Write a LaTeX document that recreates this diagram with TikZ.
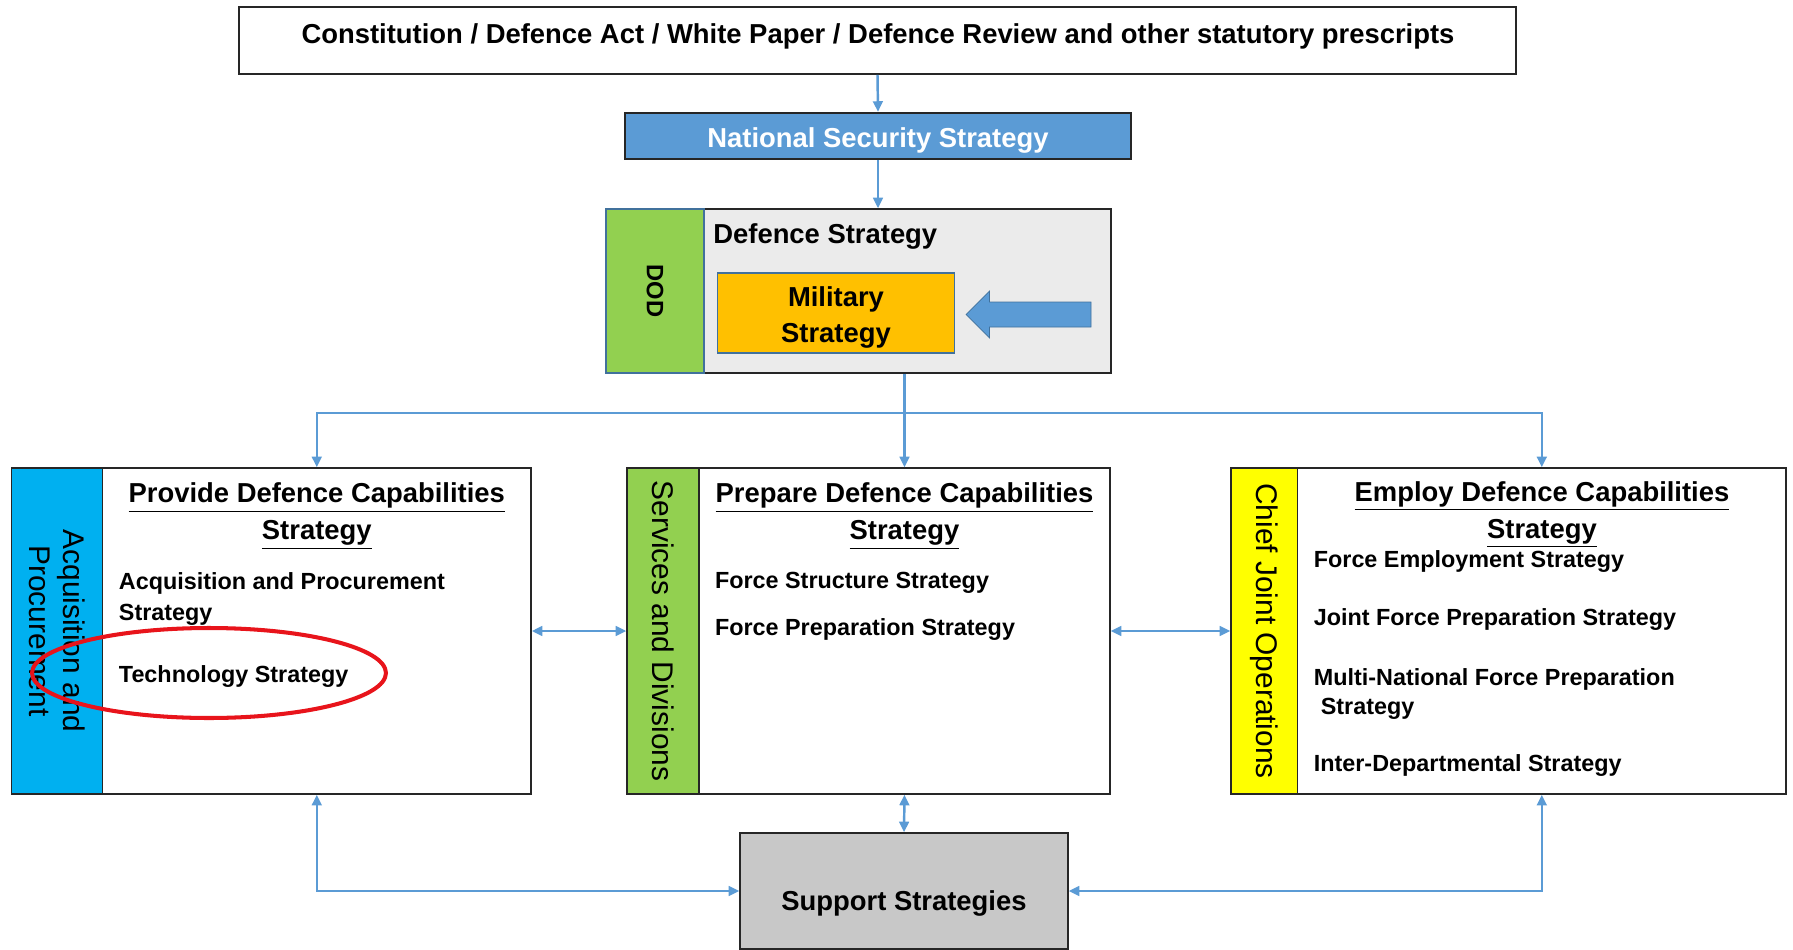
\documentclass[tikz,border=0pt]{standalone}
\usepackage{fontspec}
\setmainfont{Liberation Sans}
\usetikzlibrary{arrows.meta, positioning, calc}

\definecolor{linkblue}{HTML}{5B9BD5}
\definecolor{nssblue}{HTML}{5B9BD5}
\definecolor{dodgreen}{HTML}{92D050}
\definecolor{acqblue}{HTML}{00B0F0}
\definecolor{cjoyellow}{HTML}{FFFF00}
\definecolor{milorange}{HTML}{FFC000}
\definecolor{dsgrey}{HTML}{EBEBEB}
\definecolor{supgrey}{HTML}{C8C8C8}
\definecolor{steel}{HTML}{41719C}
\definecolor{ringred}{HTML}{E8141B}

\newcommand\headfont{\fontsize{15.6}{21}\selectfont\bfseries}
\newcommand\itemfont{\fontsize{13.3}{18.1}\selectfont\bfseries}
\newcommand\sidefont{\fontsize{17}{19.3}\selectfont}
\newcommand\dodfont{\fontsize{13.5}{16}\selectfont\bfseries}

\begin{document}
\begin{tikzpicture}[
  x=0.02cm, y=-0.02cm,
  box/.style={draw=black!85, line width=0.9pt, inner sep=0pt},
  strip/.style={box, rotate=-90, align=center, font=\sidefont},
  head/.style={font=\headfont, align=center, inner sep=0pt},
  item/.style={font=\itemfont, anchor=west, align=left, inner sep=0pt},
  link/.style={draw=linkblue, line width=1.4pt, -{Triangle[length=6pt, width=5.5pt]}},
  twoway/.style={link, {Triangle[length=6pt, width=5.5pt]}-{Triangle[length=6pt, width=5.5pt]}},
  ring/.style={draw=ringred, line width=2.3pt}
]
\clip (0,0) rectangle (1793,950);

% Statutory prescripts
\node[box, minimum width=25.54cm, minimum height=1.34cm] (law) at (877.5,40.5) {};
\node[head] (lawtext) at (878,36) {Constitution / Defence Act / White Paper / Defence Review and other statutory prescripts};

% National level
\node[box, fill=nssblue, line width=1.4pt, minimum width=10.12cm, minimum height=0.92cm,
  text=white, font=\headfont, text height=12.6pt, text depth=0pt] (nss) at (878,136) {National Security Strategy};

% Defence strategy block
\node[box, fill=dsgrey, minimum width=8.14cm, minimum height=3.28cm] (dstrat) at (907.5,291) {};
\node[box, draw=steel, fill=dodgreen, rotate=-90, minimum width=3.28cm, minimum height=1.96cm,
  font=\dodfont] (dod) at (655,291) {DOD};
\node[head, anchor=west] (dstext) at (713,236.5) {Defence Strategy};
\node[box, draw=steel, fill=milorange, minimum width=4.74cm, minimum height=1.6cm] (mil) at (836,313) {};
\node[head] (miltext) at (836,317.5) {Military\\Strategy};
\filldraw[linkblue, draw=steel, line width=0.4pt]
  (1091,302) -- (989.5,302) -- (989.5,291) -- (966,314.5) -- (989.5,338) -- (989.5,327) -- (1091,327) -- cycle;

% Provide
\node[box, minimum width=8.57cm, minimum height=6.52cm] (provide) at (316.8,631) {};
\node[strip, fill=acqblue, minimum width=6.52cm, minimum height=1.82cm] (acq) at (57,631) {Acquisition and\\Procurement};
\node[head] (providetitle) at (316.8,516) {\underline{Provide Defence Capabilities}\\\underline{Strategy}};
\node[item] (acqproc) at (118.6,599) {Acquisition and Procurement\\Strategy};
\node[item] (techstrat) at (118.6,677) {Technology Strategy};
\draw[ring] (209,673) ellipse [x radius=3.54cm, y radius=0.9cm];

% Prepare
\node[box, minimum width=8.22cm, minimum height=6.52cm] (prepare) at (904.5,631) {};
\node[strip, fill=dodgreen, minimum width=6.52cm, minimum height=1.44cm] (serv) at (663,631) {Services and Divisions};
\node[head] (preparetitle) at (904.5,516) {\underline{Prepare Defence Capabilities}\\\underline{Strategy}};
\node[item] (fstruct) at (714.7,583) {Force Structure Strategy};
\node[item] (fprep) at (714.7,630) {Force Preparation Strategy};

% Employ
\node[box, minimum width=9.77cm, minimum height=6.52cm] (employ) at (1541.8,631) {};
\node[strip, fill=cjoyellow, minimum width=6.52cm, minimum height=1.33cm] (cjo) at (1264.3,631) {Chief Joint Operations};
\node[head] (employtitle) at (1542,514.5) {\underline{Employ Defence Capabilities}\\\underline{Strategy}};
\node[item] (femploy) at (1313.5,562) {Force Employment Strategy};
\node[item] (jfprep) at (1313.5,620) {Joint Force Preparation Strategy};
\node[item, font=\fontsize{13.3}{16.4}\selectfont\bfseries] (mnfprep) at (1313.5,694) {Multi-National Force Preparation\\\hspace*{0.3em}Strategy};
\node[item] (interdep) at (1313.5,766) {Inter-Departmental Strategy};

% Support
\node[box, fill=supgrey, minimum width=6.56cm, minimum height=2.32cm] (support) at (904,891) {};
\node[head] (suptext) at (904,903) {Support Strategies};

% Connectors
\draw[link] (law.south) -- (nss.north);
\draw[link] (nss.south) -- (nss.south |- dstrat.north);
\coordinate (split) at (904.5,413);
\draw[link] (dstrat.south -| split) -- (prepare.north);
\draw[link] (split) -| (provide.north);
\draw[link] (split) -| (employ.north);
\draw[twoway] (provide.east) -- (serv.south);
\draw[twoway] (prepare.east) -- (cjo.south);
\draw[twoway] (prepare.south) -- (support.north);
\draw[twoway] (provide.south) |- (support.west);
\draw[twoway] (employ.south) |- (support.east);

\end{tikzpicture}
\end{document}
